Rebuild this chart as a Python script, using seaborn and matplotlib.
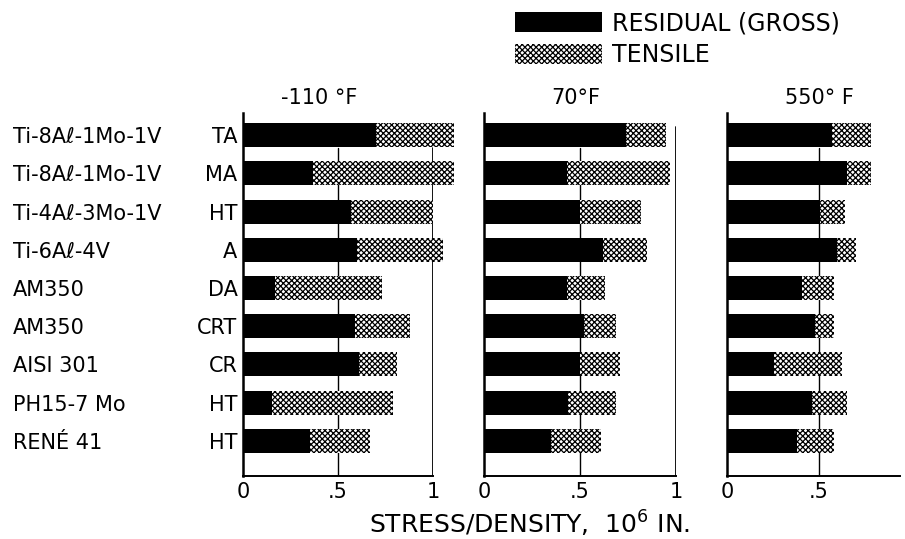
import numpy as np
import pandas as pd
import matplotlib
matplotlib.use("Agg")
import matplotlib.pyplot as plt
import matplotlib.transforms as mtransforms
from matplotlib.patches import Patch
import seaborn as sns

# ---------------- data ----------------
alloys = ["Ti-8Aℓ-1Mo-1V", "Ti-8Aℓ-1Mo-1V", "Ti-4Aℓ-3Mo-1V", "Ti-6Aℓ-4V",
          "AM350", "AM350", "AISI 301", "PH15-7 Mo", "RENÉ 41"]
conditions = ["TA", "MA", "HT", "A", "DA", "CRT", "CR", "HT", "HT"]
temperatures = ["-110 °F", "70°F", "550° F"]

residual_m110 = [0.70, 0.37, 0.57, 0.60, 0.17, 0.59, 0.61, 0.15, 0.35]
tensile_m110 = [1.11, 1.11, 1.00, 1.05, 0.73, 0.88, 0.81, 0.79, 0.67]
residual_70 = [0.74, 0.43, 0.50, 0.62, 0.43, 0.52, 0.50, 0.44, 0.35]
tensile_70 = [0.95, 0.97, 0.82, 0.85, 0.63, 0.69, 0.71, 0.69, 0.61]
residual_550 = [0.57, 0.65, 0.505, 0.60, 0.41, 0.48, 0.255, 0.46, 0.38]
tensile_550 = [0.78, 0.78, 0.64, 0.70, 0.58, 0.58, 0.625, 0.65, 0.58]

xticks_vals = [[0, 0.5, 1], [0, 0.5, 1], [0, 0.5]]
xticks_labels = [["0", ".5", "1"], ["0", ".5", "1"], ["0", ".5"]]
legend_labels = ["RESIDUAL (GROSS)", "TENSILE"]
xlabel_text = "STRESS/DENSITY,  10$^{6}$ IN."

# ---------------- style ----------------
sns.set_theme(style="white")
plt.rcParams["font.family"] = ["DejaVu Sans"]
plt.rcParams["hatch.linewidth"] = 0.9
for k in ["text.color", "xtick.color", "ytick.color", "axes.labelcolor", "axes.edgecolor"]:
    plt.rcParams[k] = "black"

HATCH = "xxxxxx"
W, H = 905, 539
fig = plt.figure(figsize=(W / 100, H / 100), dpi=100)

top_px, bot_px = 113, 476
panels_px = [(243, 433, 1.0), (484, 676, 1.0), (727, 900, 0.94)]
title_x = [0.40, 0.48, 0.50]
line1_top = [0.903, 0.961, None]

keys = [f"{a} {c}" for a, c in zip(alloys, conditions)]
residuals = [residual_m110, residual_70, residual_550]
tensiles = [tensile_m110, tensile_70, tensile_550]

axes = []
for i in range(3):
    x0, x1, xmax = panels_px[i]
    ax = fig.add_axes([x0 / W, 1 - bot_px / H, (x1 - x0) / W, (bot_px - top_px) / H])
    axes.append(ax)
    df = pd.DataFrame({"row": keys, "residual": residuals[i], "tensile": tensiles[i]})

    sns.barplot(data=df, x="tensile", y="row", orient="h", color="white",
                saturation=1, width=0.63, errorbar=None, ax=ax)
    tens_patches = list(ax.patches)
    for p in tens_patches:
        p.set_facecolor("white")
        p.set_edgecolor("black")
        p.set_hatch(HATCH)
        p.set_linewidth(0)
        p.set_clip_on(False)
        p.set_zorder(2)
    sns.barplot(data=df, x="residual", y="row", orient="h", color="black",
                saturation=1, width=0.63, errorbar=None, ax=ax)
    for p in ax.patches:
        if p not in tens_patches:
            p.set_facecolor("black")
            p.set_edgecolor("black")
            p.set_linewidth(0)
            p.set_clip_on(False)
            p.set_zorder(3)

    ax.set_xlim(0, xmax)
    ax.set_ylim(8.92, -0.58)
    ax.set_xlabel("")
    ax.set_ylabel("")
    ax.set_xticks(xticks_vals[i])
    ax.set_xticklabels(xticks_labels[i])
    ax.tick_params(axis="both", length=0)
    ax.tick_params(axis="x", labelsize=15, pad=4)

    ax.axvline(0.5, ymin=0, ymax=0.903, color="black", lw=1.0, zorder=0.5)
    if line1_top[i] is not None:
        ax.axvline(1.0, ymin=0, ymax=line1_top[i], color="black", lw=1.3, zorder=0.5)

    for s in ["top", "right"]:
        ax.spines[s].set_visible(False)
    ax.spines["left"].set_linewidth(1.8)
    ax.spines["bottom"].set_linewidth(1.4)

    ax.text(title_x[i], -0.70, temperatures[i], ha="center", va="bottom", fontsize=15)

    ax.set_yticks(range(len(conditions)))
    if i == 0:
        ax.set_yticklabels(conditions, fontsize=15)
        ax.tick_params(axis="y", pad=4)
        trans = mtransforms.blended_transform_factory(fig.transFigure, ax.transData)
        for j, name in enumerate(alloys):
            ax.text(13 / W, j, name, transform=trans, ha="left", va="center_baseline",
                    fontsize=15)
        for lab in ax.get_yticklabels():
            lab.set_va("center_baseline")
    else:
        ax.set_yticklabels([])

fig.text(530 / W, 1 - 524 / H, xlabel_text, ha="center", va="center", fontsize=18)

handles = [Patch(facecolor="black", edgecolor="black", linewidth=0),
           Patch(facecolor="white", edgecolor="black", hatch=HATCH, linewidth=0)]
fig.legend(handles, legend_labels, loc="upper left", bbox_to_anchor=(515 / W, 1 - 11 / H),
           frameon=False, fontsize=17, handlelength=3.7, handleheight=0.95,
           handletextpad=0.4, labelspacing=0.35, borderpad=0, borderaxespad=0)

fig.savefig("out.png", dpi=100)
